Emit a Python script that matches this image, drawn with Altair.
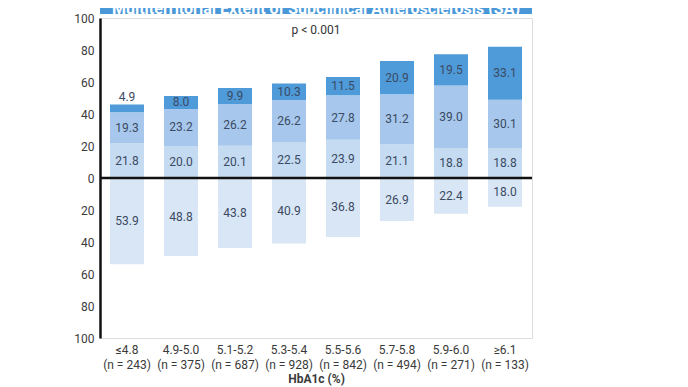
import altair as alt
import pandas as pd

categories = ["≤4.8\n(n = 243)", "4.9-5.0\n(n = 375)", "5.1-5.2\n(n = 687)", "5.3-5.4\n(n = 928)",
              "5.5-5.6\n(n = 842)", "5.7-5.8\n(n = 494)", "5.9-6.0\n(n = 271)", "≥6.1\n(n = 133)"]
no_sa = [53.9, 48.8, 43.8, 40.9, 36.8, 26.9, 22.4, 18.0]
focal = [21.8, 20.0, 20.1, 22.5, 23.9, 21.1, 18.8, 18.8]
intermediate = [19.3, 23.2, 26.2, 26.2, 27.8, 31.2, 39.0, 30.1]
generalized = [4.9, 8.0, 9.9, 10.3, 11.5, 20.9, 19.5, 33.1]
y_ticks = [-100, -80, -60, -40, -20, 0, 20, 40, 60, 80, 100]

segments = ["No SA", "Focal", "Intermediate", "Generalized"]
colors = ["#d9e6f5", "#c4dbf2", "#a7c8ec", "#4f9ad9"]

rows = []
for i, c in enumerate(categories):
    rows.append({"cat": c, "seg": "No SA", "v": no_sa[i], "y": -no_sa[i], "y2": 0})
    base = 0.0
    for seg, arr in (("Focal", focal), ("Intermediate", intermediate), ("Generalized", generalized)):
        rows.append({"cat": c, "seg": seg, "v": arr[i], "y": base, "y2": base + arr[i]})
        base += arr[i]
df = pd.DataFrame(rows)
df["mid"] = (df["y"] + df["y2"]) / 2
df["ly"] = df.apply(lambda r: r["y2"] + 4.5 if r["v"] < 6 else r["mid"], axis=1)
df["label"] = df["v"].map(lambda v: f"{v:.1f}")

W, H = 432, 320
font = "Roboto"

yaxis = alt.Axis(values=y_ticks, labelExpr="abs(datum.value)", grid=False,
                 ticks=False, domainColor="#111111", domainWidth=2.5, labelFontSize=12,
                 labelOverlap=False, labelBound=False, labelFlush=False,
                 labelColor="#3a3a3a", labelPadding=6, labelFont=font)
xaxis = alt.Axis(labelAngle=0, labelExpr="split(datum.label, '\\n')", domain=False, ticks=False,
                 labelFontSize=12, labelColor="#3a3a3a", labelPadding=6, labelLineHeight=15,
                 labelOverlap=False, labelBound=False,
                 titleFontSize=12, titleFontWeight="bold", titleColor="#3a3a3a", titlePadding=3,
                 labelFont=font, titleFont=font)
xscale = alt.Scale(paddingInner=0.37, paddingOuter=0.185)
yscale = alt.Scale(domain=[-100, 100], nice=False)

bars = alt.Chart(df).mark_bar(size=34).encode(
    x=alt.X("cat:N", sort=categories, title="HbA1c (%)", scale=xscale, axis=xaxis),
    y=alt.Y("y:Q", scale=yscale, title=None, axis=yaxis),
    y2="y2:Q",
    color=alt.Color("seg:N", scale=alt.Scale(domain=segments, range=colors), legend=None),
)

labels = alt.Chart(df).mark_text(fontSize=12, color="#3b4a63", font=font, baseline="middle").encode(
    x=alt.X("cat:N", sort=categories, title="HbA1c (%)", scale=xscale, axis=xaxis),
    y=alt.Y("ly:Q", scale=yscale, title=None, axis=yaxis),
    text="label:N",
)

zero = alt.Chart(pd.DataFrame({"z": [0]})).mark_rule(color="#111111", strokeWidth=2.5).encode(
    y=alt.Y("z:Q", scale=yscale, title=None, axis=yaxis), x=alt.value(0), x2=alt.value(W))

ptext = alt.Chart(pd.DataFrame({"t": ["p < 0.001"]})).mark_text(
    fontSize=12, color="#333333", font=font).encode(
    text="t:N", x=alt.value(W / 2), y=alt.value(12))

banner = alt.Chart(pd.DataFrame({"b": [1]})).mark_rect(color="#4a98d8").encode(
    x=alt.value(0), x2=alt.value(W), y=alt.value(-20), y2=alt.value(-4))

btext = alt.Chart(pd.DataFrame({"t": ["Multiterritorial Extent of Subclinical Atherosclerosis (SA)"]})).mark_text(
    fontSize=16, fontWeight="bold", color="white", font=font, baseline="alphabetic").encode(
    text="t:N", x=alt.value(W / 2), y=alt.value(-4))

chart = alt.layer(banner, btext, bars, labels, zero, ptext).properties(
    width=W, height=H,
    padding={"left": 92, "top": 10, "right": 148, "bottom": 60},
    autosize=alt.AutoSizeParams(type="none"),
).configure_view(fill="#edf3fb", stroke=None).configure_axis(
    labelOverlap=False).configure(background="white")

chart.save("out.html", embed_options={"renderer": "svg", "actions": False})
